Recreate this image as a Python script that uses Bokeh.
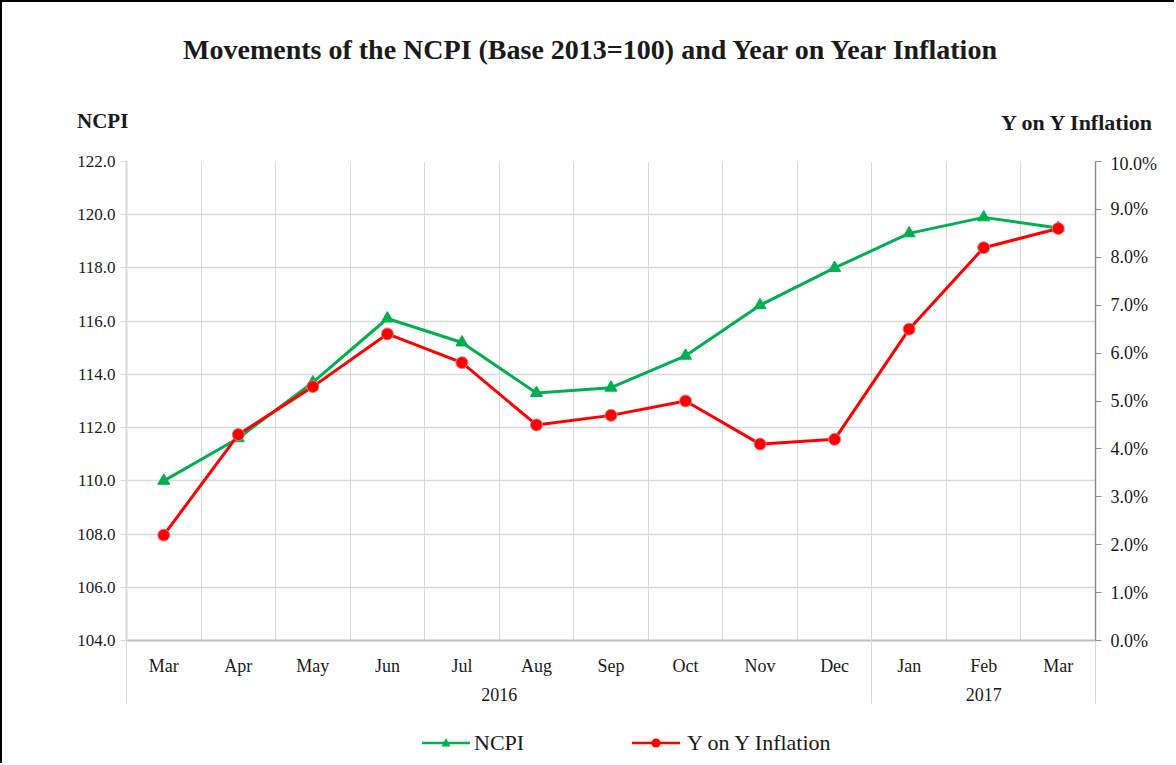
from bokeh.plotting import figure
from bokeh.layouts import column
from bokeh.models import (FactorRange, Range1d, LinearAxis, CategoricalAxis, FixedTicker, Div,
                          PrintfTickFormatter, CustomJSTickFormatter, Grid, ColumnDataSource)
from bokeh.embed import file_html
from bokeh.resources import INLINE

# ---- data ----
months = ["Mar", "Apr", "May", "Jun", "Jul", "Aug", "Sep", "Oct", "Nov", "Dec", "Jan", "Feb", "Mar"]
years = ["2016", "2016", "2016", "2016", "2016", "2016", "2016", "2016", "2016", "2016", "2017", "2017", "2017"]
ncpi = [110.0, 111.6, 113.7, 116.1, 115.2, 113.3, 113.5, 114.7, 116.6, 118.0, 119.3, 119.9, 119.5]
inflation = [2.2, 4.3, 5.3, 6.4, 5.8, 4.5, 4.7, 5.0, 4.1, 4.2, 6.5, 8.2, 8.6]
ncpi_ticks = [104.0, 106.0, 108.0, 110.0, 112.0, 114.0, 116.0, 118.0, 120.0, 122.0]
infl_ticks = [0.0, 1.0, 2.0, 3.0, 4.0, 5.0, 6.0, 7.0, 8.0, 9.0, 10.0]

title_text = "Movements of the NCPI (Base 2013=100) and Year on Year Inflation"
left_label = "NCPI"
right_label = "Y on Y Inflation"
series_names = ["NCPI", "Y on Y Inflation"]

FONT = "Liberation Serif"
GRID = "#d9d9d9"
TXT = "#1a1a1a"
GREEN = "#00b050"
RED = "#ff0000"
W = 1172
TOP_H = 151
MAIN_H = 567
LEG_H = 761 - TOP_H - MAIN_H

factors = list(zip(years, months))
src = ColumnDataSource(dict(x=factors, ncpi=ncpi, infl=inflation))
n = len(months)
bounds = list(range(n + 1))  # category boundaries (synthetic coordinates)
group_bounds = [0] + [i for i in range(1, n) if years[i] != years[i - 1]] + [n]

# ---------------- top strip: title and axis headings ----------------
span = ("position:absolute;white-space:nowrap;font-family:'Liberation Serif';"
        "font-weight:bold;color:%s;line-height:1;" % TXT)
top_html = (
    '<div style="position:relative;width:%dpx;height:%dpx;">' % (W, TOP_H)
    + '<span style="%sleft:588px;top:48px;transform:translate(-50%%,-50%%);font-size:28px;">%s</span>'
    % (span, title_text)
    + '<span style="%sleft:75px;top:119px;transform:translateY(-50%%);font-size:21px;">%s</span>'
    % (span, left_label)
    + '<span style="%sright:22px;top:121px;transform:translateY(-50%%);font-size:22px;">%s</span>'
    % (span, right_label)
    + '</div>'
)
top = Div(text=top_html, width=W, height=TOP_H, margin=(0, 0, 0, 0))

# ---------------- main chart ----------------
p = figure(width=W, height=MAIN_H, output_backend="svg", toolbar_location=None,
           x_range=FactorRange(*factors, factor_padding=0, group_padding=0, range_padding=0),
           y_range=Range1d(ncpi_ticks[0], ncpi_ticks[-1]),
           x_axis_type=None, y_axis_type=None, margin=(0, 0, 0, 0))
p.frame_width = 969
p.frame_height = 479
p.min_border_left = 124
p.min_border_right = W - 124 - 969
p.min_border_top = 8
p.min_border_bottom = 80
p.outline_line_color = None
p.extra_y_ranges = {"infl": Range1d(infl_ticks[0], infl_ticks[-1])}

yl = LinearAxis(ticker=FixedTicker(ticks=ncpi_ticks), formatter=PrintfTickFormatter(format="%.1f"))
yl.axis_line_color = GRID
yl.axis_line_width = 2
yl.major_tick_line_color = GRID
yl.major_tick_out = 6
yl.major_tick_in = 0
yl.minor_tick_line_color = None
yl.major_label_text_font = FONT
yl.major_label_text_font_size = "17px"
yl.major_label_text_color = TXT
yl.major_label_standoff = 5
p.add_layout(yl, "left")

yr = LinearAxis(y_range_name="infl", ticker=FixedTicker(ticks=infl_ticks),
                formatter=PrintfTickFormatter(format="%.1f%%"))
yr.axis_line_color = "#8c8c8c"
yr.axis_line_width = 1.5
yr.major_tick_line_color = "#8c8c8c"
yr.major_tick_out = 6
yr.major_tick_in = 0
yr.minor_tick_line_color = None
yr.major_label_text_font = FONT
yr.major_label_text_font_size = "18px"
yr.major_label_text_color = TXT
yr.major_label_standoff = 9
p.add_layout(yr, "right")

xa = CategoricalAxis()
xa.axis_line_color = "#bfbfbf"
xa.axis_line_width = 2
xa.major_tick_line_color = None
xa.major_label_text_font = FONT
xa.major_label_text_font_size = "18px"
xa.major_label_text_color = TXT
xa.major_label_standoff = 9
xa.group_text_font = FONT
xa.group_text_font_size = "18px"
xa.group_text_color = TXT
xa.group_text_font_style = "normal"
xa.separator_line_color = None
p.add_layout(xa, "below")

# group separators: ticks pointing up through the label area
gs = LinearAxis(ticker=FixedTicker(ticks=group_bounds),
                formatter=CustomJSTickFormatter(code="return ''"))
gs.axis_line_color = None
gs.major_tick_in = 90
gs.major_tick_out = 0
gs.major_tick_line_color = GRID
gs.minor_tick_line_color = None
gs.major_label_text_font_size = "2px"
gs.major_label_standoff = 0
p.add_layout(gs, "below")

p.add_layout(Grid(dimension=0, ticker=FixedTicker(ticks=bounds), grid_line_color=GRID, grid_line_width=1))
p.add_layout(Grid(dimension=1, ticker=FixedTicker(ticks=ncpi_ticks), grid_line_color=GRID, grid_line_width=1.5))

p.line("x", "ncpi", source=src, line_color=GREEN, line_width=3)
p.scatter("x", "ncpi", source=src, marker="triangle", size=12, fill_color=GREEN, line_color=GREEN)
p.line("x", "infl", source=src, y_range_name="infl", line_color=RED, line_width=3)
p.scatter("x", "infl", source=src, y_range_name="infl", marker="circle", size=12,
          fill_color=RED, line_color="#e08080", line_width=1)

# ---------------- legend strip ----------------
tri = '<polygon points="24,5 28.5,13.5 19.5,13.5" fill="%s"/>' % GREEN
dot = '<circle cx="24" cy="10" r="4.5" fill="%s"/>' % RED
def key(left, color, marker):
    return ('<svg style="position:absolute;left:%dpx;top:13px;" width="48" height="20">'
            '<line x1="0" y1="10" x2="48" y2="10" stroke="%s" stroke-width="2.5"/>%s</svg>'
            % (left, color, marker))
lab = ("position:absolute;white-space:nowrap;font-family:'Liberation Serif';font-size:22px;"
       "color:%s;line-height:1;top:23px;transform:translateY(-50%%);" % TXT)
leg_html = (
    '<div style="position:relative;width:%dpx;height:%dpx;">' % (W, LEG_H)
    + key(420, GREEN, tri)
    + '<span style="%sleft:472px;">%s</span>' % (lab, series_names[0])
    + key(630, RED, dot)
    + '<span style="%sleft:685px;">%s</span>' % (lab, series_names[1])
    + '</div>'
)
legend_div = Div(text=leg_html, width=W, height=LEG_H, margin=(0, 0, 0, 0))

lay = column(top, p, legend_div, spacing=0, margin=(0, 0, 0, 0),
             styles={"border-left": "2px solid black", "border-top": "2px solid black"})
open("out.html", "w").write(file_html(lay, INLINE))
